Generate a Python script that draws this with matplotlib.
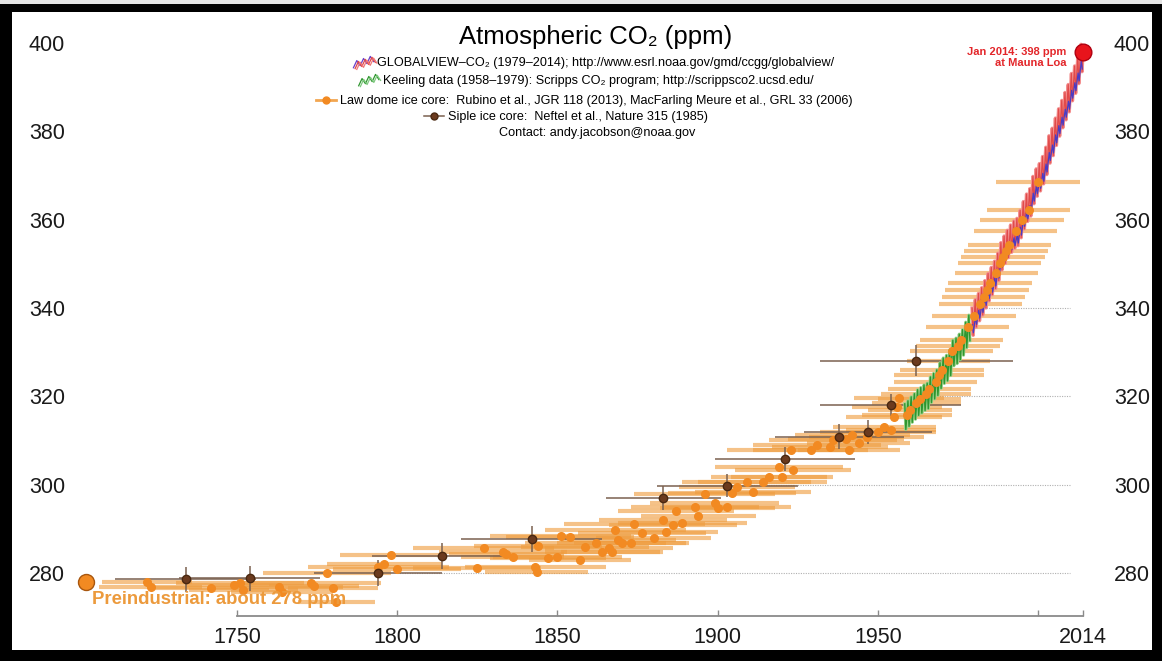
import numpy as np
import matplotlib
matplotlib.use("Agg")
import matplotlib.pyplot as plt
from matplotlib.lines import Line2D
from matplotlib.patches import Rectangle
from matplotlib.legend_handler import HandlerBase

plt.rcParams["font.family"] = ["Liberation Sans", "DejaVu Sans"]

# ---- data ----
# Law Dome ice core: year, ppm, age spread (+/- years)
law_year = [1722, 1723, 1742, 1749, 1751, 1752, 1763, 1764, 1773, 1774, 1778, 1780, 1781,
            1794, 1796, 1798, 1800, 1825, 1827, 1833, 1834, 1836, 1843, 1843.5, 1844, 1847,
            1850, 1851, 1854, 1857, 1858.5, 1862, 1864, 1866, 1867, 1868, 1869, 1870, 1873,
            1874, 1876.5, 1880, 1883, 1884, 1886, 1887, 1889, 1893, 1894, 1896, 1899, 1900,
            1903, 1904.5, 1906, 1909, 1911, 1914, 1916, 1919, 1920, 1923, 1923.5, 1929, 1931,
            1935, 1936, 1940, 1941, 1942, 1944, 1946.5, 1950, 1952, 1954, 1955, 1956, 1956.5,
            1959, 1960, 1962, 1963, 1965, 1966, 1968, 1969, 1970, 1972, 1973, 1975, 1976,
            1978, 1980, 1982, 1983, 1984, 1985, 1987, 1988, 1989, 1990, 1991, 1993, 1995,
            1997, 2000]
law_ppm = [278.0, 276.8, 276.6, 277.3, 277.8, 276.2, 276.8, 275.7, 277.7, 277.0, 280.0, 276.6, 273.5,
           281.4, 282.0, 284.1, 281.0, 281.1, 285.7, 284.8, 284.2, 283.6, 281.4, 280.2, 286.1, 283.3,
           283.6, 288.4, 288.2, 283.0, 285.9, 286.8, 284.8, 285.7, 284.8, 289.7, 287.5, 286.8, 286.8,
           291.1, 289.0, 288.0, 292.0, 289.3, 290.9, 294.0, 291.3, 295.0, 293.0, 298.0, 295.8, 294.7,
           295.0, 298.1, 299.5, 300.6, 298.3, 300.6, 301.7, 304.0, 301.7, 307.8, 303.3, 307.8, 309.0,
           308.6, 310.1, 310.4, 307.8, 311.2, 309.5, 310.8, 311.9, 313.0, 312.4, 315.3, 317.6, 319.6,
           315.8, 317.0, 318.6, 319.4, 320.5, 321.6, 323.3, 324.8, 325.9, 327.9, 330.2, 331.4, 332.7,
           335.6, 338.3, 340.9, 342.4, 344.0, 345.6, 347.9, 350.2, 351.5, 352.8, 354.3, 357.4, 360.0,
           362.2, 368.5]
law_age = [14, 16, 18, 15, 20, 17, 20, 16, 22, 14, 20, 14, 12,
           22, 18, 16, 20, 20, 22, 20, 18, 16, 22, 16, 20, 18,
           20, 22, 20, 16, 20, 22, 18, 20, 16, 22, 18, 20, 18,
           22, 20, 18, 20, 16, 20, 18, 20, 20, 18, 22, 20, 18,
           20, 20, 18, 20, 18, 20, 18, 20, 16, 20, 18, 18, 20,
           18, 20, 18, 16, 18, 16, 18, 18, 16, 14, 15, 14, 14,
           14, 13, 14, 13, 14, 13, 13, 14, 13, 13, 13, 13, 13,
           13, 13, 13, 13, 13, 13, 13, 13, 13, 13, 13, 13, 13,
           13, 13]

# Siple ice core
siple_year = [1734, 1754, 1794, 1814, 1842, 1883, 1903, 1921, 1938, 1947, 1954, 1962]
siple_ppm = [278.6, 278.8, 280.0, 283.8, 287.7, 297.0, 299.8, 305.8, 310.9, 311.9, 318.0, 328.1]
siple_age = [22, 22, 20, 22, 22, 18, 22, 22, 20, 20, 22, 30]
siple_err = [2.8, 2.8, 3.0, 3.0, 3.0, 2.8, 2.6, 2.8, 2.8, 2.8, 2.5, 3.5]

# Keeling (Scripps) 1958-1978: seasonal maximum (May) and minimum (Sep)
kl_years = list(range(1958, 1979))
kl_hi = [318.3, 319.0, 319.9, 320.6, 321.5, 322.0, 322.6, 323.0, 324.4, 325.2, 326.0,
         327.6, 328.7, 329.3, 330.5, 332.7, 333.2, 334.1, 335.1, 336.8, 338.4]
kl_lo = [312.5, 313.2, 314.1, 314.8, 315.7, 316.2, 316.8, 317.2, 318.6, 319.4, 320.2,
         321.8, 322.9, 323.5, 324.7, 326.9, 327.4, 328.3, 329.3, 331.0, 332.6]

# GLOBALVIEW 1979-2013: northern band max/min and southern band max/min
gv_years = list(range(1979, 2014))
gv_hi = [340.0, 341.9, 343.3, 344.6, 346.2, 347.8, 349.2, 350.6, 352.4, 354.8, 356.3, 357.6,
         358.8, 359.7, 360.3, 362.1, 364.1, 365.8, 367.0, 369.8, 371.5, 372.7, 374.3, 376.4,
         379.0, 380.7, 383.0, 385.1, 387.0, 388.8, 390.6, 393.1, 394.8, 397.0, 399.7]
gv_lo = [333.8, 335.7, 337.1, 338.4, 340.0, 341.6, 343.0, 344.4, 346.2, 348.6, 350.1, 351.4,
         352.6, 353.5, 354.1, 355.9, 357.9, 359.6, 360.8, 363.6, 365.3, 366.5, 368.1, 370.2,
         372.8, 374.5, 376.8, 378.9, 380.8, 382.6, 384.4, 386.9, 388.6, 390.8, 393.5]
sh_hi = [336.2, 338.1, 339.5, 340.8, 342.4, 344.0, 345.4, 346.8, 348.6, 351.0, 352.5, 353.8,
         355.0, 355.9, 356.5, 358.3, 360.3, 362.0, 363.2, 366.0, 367.7, 368.9, 370.5, 372.6,
         375.2, 376.9, 379.2, 381.3, 383.2, 385.0, 386.8, 389.3, 391.0, 393.2, 395.9]
sh_lo = [334.4, 336.3, 337.7, 339.0, 340.6, 342.2, 343.6, 345.0, 346.8, 349.2, 350.7, 352.0,
         353.2, 354.1, 354.7, 356.5, 358.5, 360.2, 361.4, 364.2, 365.9, 367.1, 368.7, 370.8,
         373.4, 375.1, 377.4, 379.5, 381.4, 383.2, 385.0, 387.5, 389.2, 391.4, 394.1]
peak_month, trough_month = 5, 9

ml_year, ml_ppm = 2014, 398
pre_year, pre_ppm = 1703, 278

grid_levels = [280, 300, 320, 340]
grid_start = [1800, 1905, 1960, 1980]
grid_end = 2010

xtick_pos = [1750, 1800, 1850, 1900, 1950, 2000, 2014]
xtick_lab = ["1750", "1800", "1850", "1900", "1950", "", "2014"]
ytick_pos = [280, 300, 320, 340, 360, 380, 400]

W, H = 1162, 661
fig = plt.figure(figsize=(W / 100, H / 100), dpi=100)
fig.patch.set_facecolor("black")
fig.add_artist(Rectangle((12 / W, 11 / H), 1140 / W, 638 / H, transform=fig.transFigure,
                         facecolor="white", edgecolor="none", zorder=-10))
fig.add_artist(Rectangle((0, 1 - 4 / H), 1, 4 / H, transform=fig.transFigure,
                         facecolor="#e4e4e4", edgecolor="none", zorder=-9))

ax = fig.add_axes([72 / W, 45 / H, 1028 / W, 591 / H])
ax.set_facecolor("none")
ax.set_xlim(1698.5, 2019.3)
ax.set_ylim(270.27, 404.07)

# dotted reference lines
for lev, st in zip(grid_levels, grid_start):
    ax.plot([st, grid_end], [lev, lev], color="#b0b0b0", lw=0.8, ls=(0, (1, 1.2)), zorder=1)

# Law Dome age bars and points
ax.errorbar(law_year, law_ppm, xerr=law_age, fmt="none", ecolor="#ef9d40", elinewidth=3.0,
            alpha=0.62, zorder=2)
# Siple bars
ax.errorbar(siple_year, siple_ppm, xerr=siple_age, yerr=siple_err, fmt="none",
            ecolor="#7a6150", elinewidth=1.1, zorder=2.5)

# Keeling record
kx, ky = [], []
for yr, hi, lo in zip(kl_years, kl_hi, kl_lo):
    kx += [yr + (peak_month - 0.5) / 12, yr + (trough_month - 0.5) / 12]
    ky += [hi, lo]
ax.plot(kx, ky, color="#9ad28a", lw=2.2, zorder=3)
ax.plot(kx, ky, color="#2f962f", lw=1.0, zorder=3.1)

# GLOBALVIEW
gx, gy, sx, sy = [], [], [], []
for yr, hi, lo, shh, shl in zip(gv_years, gv_hi, gv_lo, sh_hi, sh_lo):
    gx += [yr + (peak_month - 0.5) / 12, yr + (trough_month - 0.5) / 12]
    gy += [hi, lo]
    sx += [yr + (peak_month + 0.5) / 12, yr + (trough_month + 0.5) / 12]
    sy += [shh, shl]
gx.append(ml_year)
gy.append(ml_ppm)
ax.plot(gx, gy, color="#f39090", lw=2.4, zorder=3)
ax.plot(gx, gy, color="#e14a4a", lw=0.9, zorder=3.1)
ax.plot(sx, sy, color="#4a3cc4", lw=0.9, zorder=3.2)

ax.plot(law_year, law_ppm, "o", ms=5.5, mfc="#f28a22", mec="#f28a22", zorder=4)
ax.plot(siple_year, siple_ppm, "o", ms=6, mfc="#6b3a1e", mec="#4a2810", zorder=5)

# highlighted points
ax.plot([ml_year], [ml_ppm], "o", ms=12, mfc="#e8141c", mec="#b00010", zorder=6, clip_on=False)
ax.annotate("Jan 2014: 398 ppm\nat Mauna Loa", xy=(ml_year, ml_ppm), xytext=(-12, -4),
            textcoords="offset points", ha="right", va="center", multialignment="right",
            fontsize=8, fontweight="bold", color="#e3262a", zorder=7)
ax.plot([pre_year], [pre_ppm], "o", ms=11.5, mfc="#f28a22", mec="#a8560e", mew=1,
        zorder=6, clip_on=False)
ax.annotate("Preindustrial: about 278 ppm", xy=(pre_year, pre_ppm), xytext=(4, -13),
            textcoords="offset points", ha="left", va="center", fontsize=13.3,
            fontweight="bold", color="#ec9a3c", zorder=7)

# axes
for s in ["top", "left", "right"]:
    ax.spines[s].set_visible(False)
ax.spines["bottom"].set_bounds(1750, 2014)
ax.spines["bottom"].set_color("#8a8a8a")
ax.spines["bottom"].set_linewidth(1.3)
ax.set_xticks(xtick_pos)
ax.set_xticklabels(xtick_lab)
ax.tick_params(axis="x", direction="in", length=4, width=1, color="#8a8a8a", pad=8,
               labelsize=15.5, labelcolor="#1a1a1a")
ax.set_yticks(ytick_pos)
ax.tick_params(axis="y", length=0, pad=5, labelsize=15.5, labelcolor="#1a1a1a")

ax2 = ax.twinx()
ax2.set_ylim(ax.get_ylim())
ax2.set_yticks(ytick_pos)
ax2.tick_params(axis="y", length=0, pad=10, labelsize=15.5, labelcolor="#1a1a1a")
for s in ax2.spines.values():
    s.set_visible(False)

# title and legend lines
fig.text(596 / W, 1 - 37 / H, "Atmospheric CO₂ (ppm)", ha="center", va="center", fontsize=18.5)


class Zigzag(HandlerBase):
    def __init__(self, colors):
        super().__init__()
        self.colors = colors

    def create_artists(self, legend, orig_handle, xdescent, ydescent, width, height, fontsize, trans):
        n = 7
        xs = np.linspace(-xdescent, width - xdescent, n)
        alt = np.where(np.arange(n) % 2 == 0, 0.0, 1.0)
        ys = -ydescent + alt * height * 0.7 + np.linspace(-0.2, 0.5, n) * height
        arts = []
        for k, c in enumerate(self.colors):
            arts.append(Line2D(xs + k * 1.2, ys - k * 0.6, color=c, lw=0.9, transform=trans))
        return arts


prop = {"family": ["Liberation Sans", "DejaVu Sans"], "size": 9.1}
h_gv = Line2D([], [])
h_kl = Line2D([], [])
h_law = Line2D([], [], color="#f2a650", lw=2, marker="o", ms=5, mfc="#f28a22", mec="#f28a22")
h_sip = Line2D([], [], color="#7a6150", lw=1.1, marker="o", ms=5, mfc="#6b3a1e", mec="#4a2810")

legend_rows = [
    (h_gv, "GLOBALVIEW–CO₂ (1979–2014); http://www.esrl.noaa.gov/gmd/ccgg/globalview/", 594, 63,
     {h_gv: Zigzag(["#6a3fc8", "#e04848", "#f07878"])}),
    (h_kl, "Keeling data (1958–1979): Scripps CO₂ program; http://scrippsco2.ucsd.edu/", 586, 81,
     {h_kl: Zigzag(["#2f962f", "#7fc97f"])}),
    (h_law, "Law dome ice core:  Rubino et al., JGR 118 (2013), MacFarling Meure et al., GRL 33 (2006)",
     584, 101, None),
    (h_sip, "Siple ice core:  Neftel et al., Nature 315 (1985)", 566, 117, None),
]
for h, txt, cx, cy, hmap in legend_rows:
    fig.legend(handles=[h], labels=[txt], loc="center", bbox_to_anchor=(cx / W, 1 - cy / H),
               frameon=False, prop=prop, handlelength=1.6, handletextpad=0.3, borderpad=0,
               borderaxespad=0, handler_map=hmap)
fig.text(597 / W, 1 - 133 / H, "Contact: andy.jacobson@noaa.gov", ha="center", va="center",
         fontsize=9.1)

fig.savefig("out.png", dpi=100, facecolor=fig.get_facecolor())
